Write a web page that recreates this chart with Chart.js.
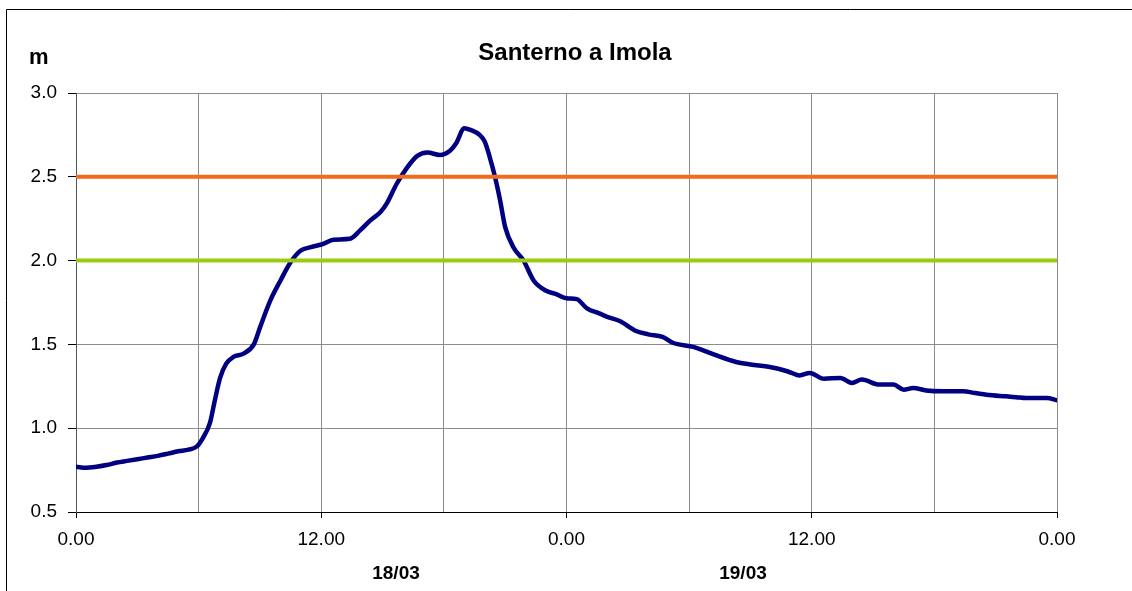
<!DOCTYPE html>
<html>
<head>
<meta charset="utf-8">
<title>Santerno a Imola</title>
<script src="https://cdn.jsdelivr.net/npm/chart.js@4/dist/chart.umd.min.js"></script>
<style>
  body { margin: 0; background: #fff; }
  canvas { display: block; }
</style>
</head>
<body>
<canvas id="myChart" width="1132" height="591"></canvas>
<script>
const myChart = document.querySelector("#myChart");

// hours from 0.00 on 17/03, water level in metres
const hours = [
  0, 0.5, 1, 1.5, 2, 2.5, 3, 3.5, 4, 4.5, 5, 5.5, 5.9, 6.2, 6.55, 6.8, 7.05,
  7.35, 7.7, 8.2, 8.7, 9, 9.5, 10, 10.5, 11, 11.5, 12.1, 12.6, 13.4, 13.9,
  14.4, 14.9, 15.2, 15.7, 16.2, 16.7, 17.2, 17.8, 18.3, 18.6, 19, 19.3,
  19.75, 20, 20.25, 20.5, 20.75, 21, 21.4, 21.9, 22.4, 23, 23.5, 24, 24.5,
  25, 25.6, 26.1, 26.6, 27.4, 28, 28.7, 29.2, 29.5, 30.2, 31.2, 32.3, 33,
  33.95, 34.8, 35.4, 35.9, 36.6, 37.4, 37.96, 38.45, 39.3, 40, 40.5, 40.96,
  41.6, 42.4, 43.4, 44, 44.55, 45.5, 46, 46.5, 47.5, 48,
];
const level = [
  0.77, 0.764, 0.77, 0.78, 0.795, 0.805, 0.815, 0.825, 0.835, 0.848, 0.862,
  0.872, 0.89, 0.94, 1.03, 1.17, 1.3, 1.385, 1.425, 1.445, 1.5, 1.6, 1.76,
  1.88, 1.99, 2.06, 2.08, 2.1, 2.125, 2.13, 2.18, 2.24, 2.29, 2.34, 2.46,
  2.555, 2.625, 2.645, 2.63, 2.655, 2.7, 2.79, 2.78, 2.75, 2.71, 2.615, 2.5,
  2.36, 2.2, 2.08, 2.0, 1.88, 1.82, 1.8, 1.775, 1.77, 1.715, 1.685, 1.66,
  1.64, 1.58, 1.56, 1.545, 1.51, 1.5, 1.485, 1.44, 1.395, 1.38, 1.365, 1.34,
  1.315, 1.33, 1.295, 1.3, 1.27, 1.29, 1.26, 1.26, 1.23, 1.24, 1.225, 1.22,
  1.22, 1.21, 1.2, 1.19, 1.185, 1.18, 1.18, 1.167,
];

// alert thresholds
const thresholdHigh = 2.5;
const thresholdLow = 2.0;

const xTicks = { 0: "0.00", 12: "12.00", 24: "0.00", 36: "12.00", 48: "0.00" };
const dayLabels = [
  { text: "18/03", x: 396 },
  { text: "19/03", x: 743 },
];

const FONT = "'Liberation Sans', Arial, sans-serif";

const seriesPoints = hours.map((h, i) => ({ x: h, y: level[i] }));

const extras = {
  id: "extras",
  beforeDraw(chart) {
    const c = chart.ctx;
    c.save();
    c.fillStyle = "#fff";
    c.fillRect(0, 0, chart.width, chart.height);
    c.restore();
  },
  afterDraw(chart) {
    const c = chart.ctx;
    c.save();
    // outer frame
    c.strokeStyle = "#000";
    c.lineWidth = 1;
    c.beginPath();
    c.moveTo(6.5, chart.height);
    c.lineTo(6.5, 9.5);
    c.lineTo(chart.width, 9.5);
    c.stroke();

    c.fillStyle = "#000";
    c.textBaseline = "middle";
    c.textAlign = "center";
    c.font = "bold 24px " + FONT;
    c.fillText("Santerno a Imola", 575, 53);

    c.textAlign = "left";
    c.font = "bold 22px " + FONT;
    c.fillText("m", 29, 58);

    c.textAlign = "center";
    c.font = "bold 19px " + FONT;
    dayLabels.forEach((d) => c.fillText(d.text, d.x, 574));
    c.restore();
  },
};

const data = {
  datasets: [
    {
      label: "soglia 2",
      data: [
        { x: 0, y: thresholdHigh },
        { x: 48, y: thresholdHigh },
      ],
      borderColor: "#f26b1d",
      borderWidth: 4,
      pointRadius: 0,
    },
    {
      label: "soglia 1",
      data: [
        { x: 0, y: thresholdLow },
        { x: 48, y: thresholdLow },
      ],
      borderColor: "#99cc11",
      borderWidth: 4,
      pointRadius: 0,
    },
    {
      label: "Santerno a Imola",
      data: seriesPoints,
      borderColor: "#000080",
      borderWidth: 4.5,
      borderCapStyle: "round",
      borderJoinStyle: "round",
      cubicInterpolationMode: "monotone",
      pointRadius: 0,
    },
  ],
};

const config = {
  type: "line",
  data: data,
  plugins: [extras],
  options: {
    responsive: false,
    animation: false,
    layout: { padding: { left: 0, top: 93, right: 75, bottom: 0 } },
    plugins: {
      legend: { display: false },
      tooltip: { enabled: false },
      title: { display: false },
    },
    scales: {
      x: {
        type: "linear",
        min: 0,
        max: 48,
        afterFit: (s) => { s.height = 79; },
        afterBuildTicks: (s) => {
          s.ticks = [0, 6, 12, 18, 24, 30, 36, 42, 48].map((v) => ({ value: v }));
        },
        ticks: {
          autoSkip: false,
          maxRotation: 0,
          padding: 10,
          color: "#000",
          font: { family: FONT, size: 19 },
          callback: (v) => xTicks[v] || "",
        },
        grid: {
          color: "#8c8c8c",
          lineWidth: 1,
          tickLength: 6,
          tickColor: (ctx) => (ctx.tick && ctx.tick.value % 12 === 0 ? "#000" : "rgba(0,0,0,0)"),
        },
        border: { color: "#000", width: 1 },
      },
      y: {
        min: 0.5,
        max: 3.0,
        afterFit: (s) => { s.width = 76; },
        ticks: {
          stepSize: 0.5,
          padding: 11,
          color: "#000",
          font: { family: FONT, size: 19 },
          callback: (v) => v.toFixed(1),
        },
        grid: {
          color: "#8c8c8c",
          lineWidth: 1,
          tickLength: 8,
          tickColor: "#000",
        },
        border: { color: "#555", width: 1 },
      },
    },
  },
};

const lineChart = new Chart(myChart, config);
</script>
</body>
</html>
